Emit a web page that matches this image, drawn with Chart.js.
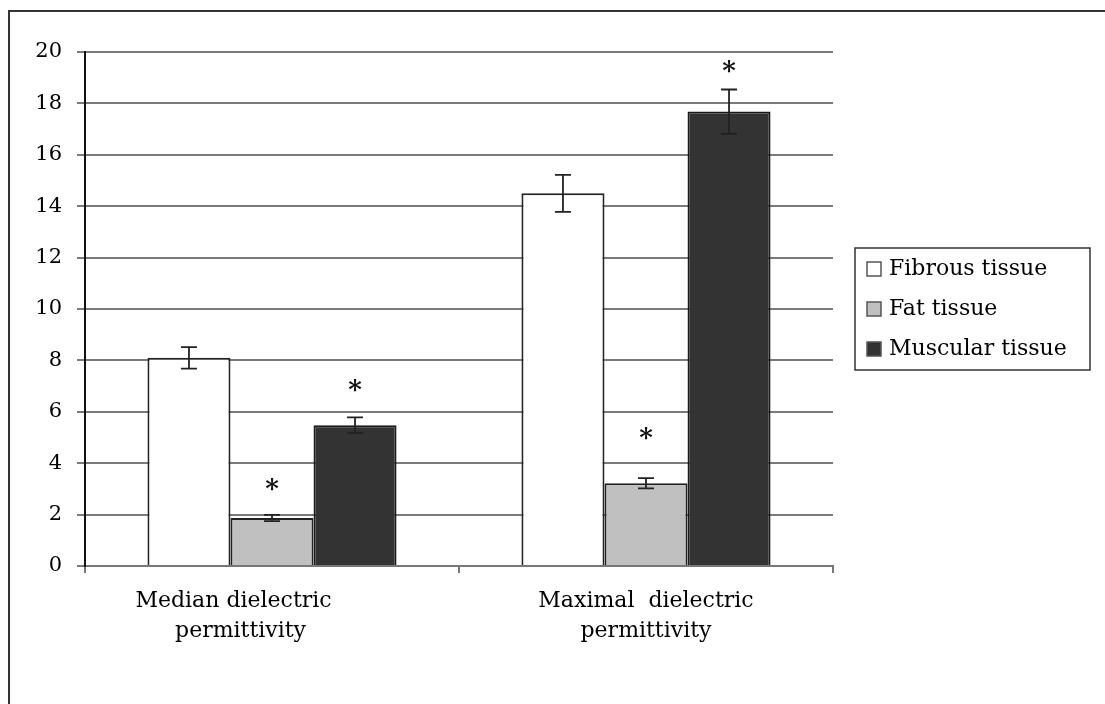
<!DOCTYPE html>
<html>
<head>
<meta charset="utf-8">
<script src="https://cdn.jsdelivr.net/npm/chart.js@4"></script>
<style>
  html, body { margin: 0; padding: 0; background: #fff; }
  #wrap { position: relative; width: 1105px; height: 704px; overflow: hidden; }
  #frame { position: absolute; left: 8px; top: 10px; width: 1200px; height: 800px;
           border-left: 2px solid #333; border-top: 2px solid #333; }
  canvas { position: absolute; left: 0; top: 0; }
</style>
</head>
<body>
<div id="wrap">
  <div id="frame"></div>
  <canvas id="c" width="1105" height="704"></canvas>
</div>
<script>
const categories = ["Median dielectric permittivity", "Maximal  dielectric permittivity"];
const seriesNames = ["Fibrous tissue", "Fat tissue", "Muscular tissue"];
const fibrous = [8.1, 14.5];
const fibrousErr = [0.42, 0.72];
const fat = [1.87, 3.22];
const fatErr = [0.12, 0.2];
const muscular = [5.48, 17.68];
const muscularErr = [0.3, 0.86];
// asterisk marks (value position on y scale), null = no mark
const fibrousStar = [null, null];
const fatStar = [3.19, 5.17];
const muscularStar = [7.04, 19.42];
const yTicks = [0, 2, 4, 6, 8, 10, 12, 14, 16, 18, 20];

const FONT = "'DejaVu Serif', 'Liberation Serif', serif";

const errorBarPlugin = {
  id: 'errorBars',
  afterDatasetsDraw(chart) {
    const ctx = chart.ctx;
    const y = chart.scales.y;
    chart.data.datasets.forEach((ds, i) => {
      const meta = chart.getDatasetMeta(i);
      meta.data.forEach((bar, j) => {
        const v = ds.data[j], e = ds.errors[j];
        const yTop = y.getPixelForValue(v + e);
        const yBot = y.getPixelForValue(v - e);
        ctx.save();
        ctx.strokeStyle = '#222';
        ctx.lineWidth = 1.8;
        ctx.beginPath();
        ctx.moveTo(bar.x, yTop); ctx.lineTo(bar.x, yBot);
        ctx.moveTo(bar.x - 8, yTop); ctx.lineTo(bar.x + 8, yTop);
        ctx.moveTo(bar.x - 8, yBot); ctx.lineTo(bar.x + 8, yBot);
        ctx.stroke();
        const s = ds.stars[j];
        if (s !== null && s !== undefined) {
          ctx.font = "bold 26px " + FONT;
          ctx.fillStyle = '#111';
          ctx.textAlign = 'center';
          ctx.textBaseline = 'alphabetic';
          const m = ctx.measureText('*');
          const cy = y.getPixelForValue(s);
          ctx.fillText('*', bar.x, cy + (m.actualBoundingBoxAscent - m.actualBoundingBoxDescent) / 2);
        }
        ctx.restore();
      });
    });
  }
};

const legendPlugin = {
  id: 'boxLegend',
  afterDraw(chart) {
    const ctx = chart.ctx;
    const left = 855, top = 248, w = 235, h = 122;
    ctx.save();
    ctx.strokeStyle = '#333';
    ctx.lineWidth = 1.5;
    ctx.strokeRect(left, top, w, h);
    ctx.font = "22px " + FONT;
    ctx.textBaseline = 'middle';
    ctx.textAlign = 'left';
    chart.data.datasets.forEach((ds, i) => {
      const cy = 269 + i * 40;
      ctx.fillStyle = ds.backgroundColor;
      ctx.fillRect(867, cy - 7, 14, 14);
      ctx.strokeStyle = '#555';
      ctx.lineWidth = 1.5;
      ctx.strokeRect(867, cy - 7, 14, 14);
      ctx.fillStyle = '#000';
      ctx.fillText(ds.label, 889, cy);
    });
    ctx.restore();
  }
};

function splitLabel(label, idx) {
  const words = label.split(' permittivity');
  if (idx === 0) {
    return [words[0] + '           ', 'permittivity' + '         '];
  }
  return [words[0], 'permittivity'];
}

new Chart(document.getElementById('c'), {
  type: 'bar',
  data: {
    labels: categories,
    datasets: [
      { label: seriesNames[0], data: fibrous, errors: fibrousErr, stars: fibrousStar,
        backgroundColor: '#ffffff', borderColor: '#222', borderWidth: 2 },
      { label: seriesNames[1], data: fat, errors: fatErr, stars: fatStar,
        backgroundColor: '#c0c0c0', borderColor: '#222', borderWidth: 2 },
      { label: seriesNames[2], data: muscular, errors: muscularErr, stars: muscularStar,
        backgroundColor: '#333333', borderColor: '#1a1a1a', borderWidth: 2 }
    ]
  },
  options: {
    responsive: false,
    animation: false,
    datasets: { bar: { categoryPercentage: 0.666, barPercentage: 1.0 } },
    layout: { padding: { left: 0, top: 52, right: 272, bottom: 0 } },
    plugins: { legend: { display: false }, tooltip: { enabled: false } },
    scales: {
      x: {
        afterFit(scale) { scale.height = 138; },
        grid: { offset: true, drawOnChartArea: false, drawTicks: true, tickLength: 7,
                color: '#777', lineWidth: 2 },
        border: { color: '#777', width: 2 },
        ticks: {
          color: '#000', padding: 13,
          font: { family: FONT, size: 22, lineHeight: 1.36 },
          callback: function(value, index) { return splitLabel(this.getLabelForValue(value), index); }
        }
      },
      y: {
        min: 0, max: 20,
        afterFit(scale) { scale.width = 85; },
        afterBuildTicks(scale) { scale.ticks = yTicks.map(v => ({ value: v })); },
        grid: { color: '#7a7a7a', lineWidth: 2, tickLength: 8, drawTicks: true },
        border: { color: '#111', width: 2 },
        ticks: { color: '#000', padding: 15, font: { family: FONT, size: 21 } }
      }
    }
  },
  plugins: [errorBarPlugin, legendPlugin]
});
</script>
</body>
</html>
